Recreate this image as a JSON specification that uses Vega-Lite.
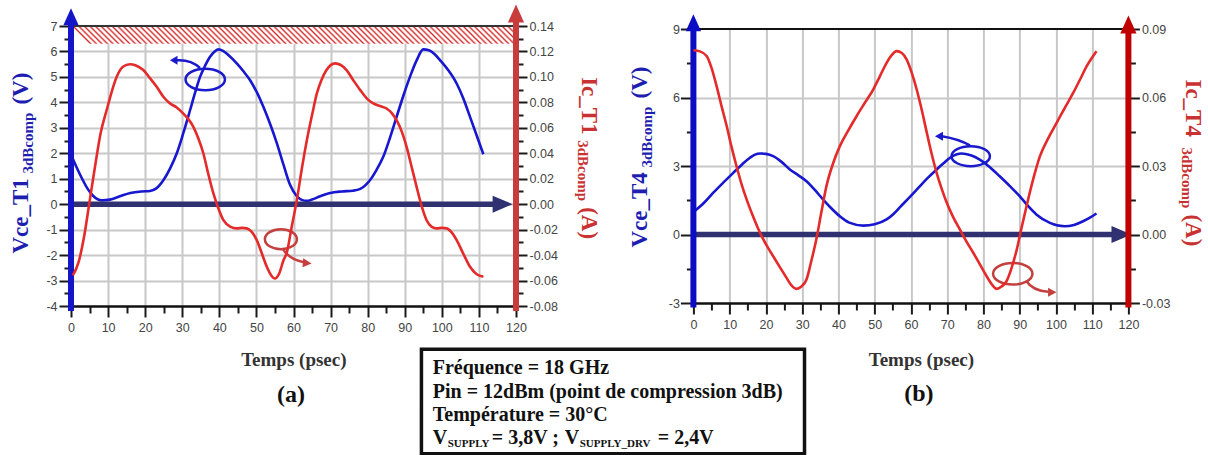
{
"$schema":"https://vega.github.io/schema/vega-lite/v6.json",
"background":"white",
"padding":{"left":10,"top":4,"right":2,"bottom":0},
"bounds":"flush",
"spacing":177.4,
"center":true,
"config":{"view":{"stroke":null},"axis":{"labelFont":"Liberation Sans","labelColor":"#444","labelFontSize":12.5,"labelOverlap":false,"labelFlush":false,"tickColor":"#1a1a1a","tickWidth":2,"gridColor":"#c8c8c8","gridWidth":2}},
"datasets":{
"aV":[{"t":0,"v":1.95},{"t":1.5,"v":1.45},{"t":3,"v":1.0},{"t":4.5,"v":0.6},{"t":6,"v":0.32},{"t":8.3,"v":0.15},{"t":10.5,"v":0.18},{"t":13,"v":0.3},{"t":16,"v":0.44},{"t":19,"v":0.5},{"t":21.3,"v":0.52},{"t":23,"v":0.62},{"t":24.9,"v":0.94},{"t":26.7,"v":1.4},{"t":28.5,"v":1.99},{"t":30.3,"v":2.8},{"t":32.1,"v":3.69},{"t":33.5,"v":4.4},{"t":34.8,"v":5.0},{"t":36.2,"v":5.45},{"t":37.5,"v":5.79},{"t":38.6,"v":5.98},{"t":39.7,"v":6.08},{"t":41,"v":6.02},{"t":42.5,"v":5.85},{"t":44.7,"v":5.53},{"t":46.5,"v":5.22},{"t":48.3,"v":4.87},{"t":50.1,"v":4.4},{"t":51.9,"v":3.82},{"t":53.7,"v":3.15},{"t":55.5,"v":2.4},{"t":57.3,"v":1.55},{"t":59.1,"v":0.75},{"t":60.8,"v":0.33},{"t":62.2,"v":0.17},{"t":63.6,"v":0.13},{"t":65,"v":0.18},{"t":67,"v":0.3},{"t":69.9,"v":0.44},{"t":73,"v":0.5},{"t":76,"v":0.53},{"t":78,"v":0.6},{"t":80.6,"v":0.94},{"t":82.4,"v":1.35},{"t":84.2,"v":1.86},{"t":86,"v":2.6},{"t":87.8,"v":3.43},{"t":89.6,"v":4.25},{"t":91.4,"v":5.0},{"t":93.2,"v":5.65},{"t":95,"v":6.08},{"t":96.5,"v":6.05},{"t":98,"v":5.9},{"t":99.5,"v":5.66},{"t":101.8,"v":5.25},{"t":104,"v":4.74},{"t":105.8,"v":4.15},{"t":107.6,"v":3.43},{"t":109.4,"v":2.7},{"t":111.2,"v":1.96}],
"aI":[{"t":0.5,"i":-0.056},{"t":2,"i":-0.046},{"t":3.5,"i":-0.026},{"t":4.9,"i":0},{"t":6.5,"i":0.03},{"t":8,"i":0.056},{"t":9.6,"i":0.0738},{"t":12.3,"i":0.1},{"t":14,"i":0.108},{"t":15.9,"i":0.11},{"t":17.5,"i":0.109},{"t":19.5,"i":0.1054},{"t":21.3,"i":0.099},{"t":23.1,"i":0.0922},{"t":25,"i":0.084},{"t":26.7,"i":0.0792},{"t":28.5,"i":0.076},{"t":30.3,"i":0.0712},{"t":31.6,"i":0.067},{"t":33,"i":0.0608},{"t":34.3,"i":0.052},{"t":35.7,"i":0.0398},{"t":37,"i":0.024},{"t":38.4,"i":0.0084},{"t":39.7,"i":-0.003},{"t":41.1,"i":-0.0126},{"t":42.9,"i":-0.0176},{"t":44.7,"i":-0.019},{"t":46.2,"i":-0.0186},{"t":47.4,"i":-0.019},{"t":48.8,"i":-0.022},{"t":50.1,"i":-0.0282},{"t":51.5,"i":-0.039},{"t":52.8,"i":-0.0492},{"t":54,"i":-0.056},{"t":55,"i":-0.0584},{"t":56.2,"i":-0.054},{"t":57.3,"i":-0.044},{"t":58.2,"i":-0.038},{"t":59.5,"i":-0.018},{"t":60.9,"i":0.0032},{"t":62.2,"i":0.027},{"t":63.6,"i":0.0502},{"t":65,"i":0.07},{"t":66.3,"i":0.087},{"t":67.6,"i":0.098},{"t":68.9,"i":0.1054},{"t":71.2,"i":0.1106},{"t":74.3,"i":0.1054},{"t":76,"i":0.098},{"t":78,"i":0.0896},{"t":79.8,"i":0.083},{"t":81.5,"i":0.0792},{"t":83.3,"i":0.0772},{"t":85.1,"i":0.0752},{"t":86.5,"i":0.0716},{"t":87.8,"i":0.066},{"t":89.2,"i":0.057},{"t":90.5,"i":0.045},{"t":91.8,"i":0.03},{"t":93.2,"i":0.0136},{"t":94.5,"i":-0.001},{"t":95.9,"i":-0.0126},{"t":97.2,"i":-0.0176},{"t":98.6,"i":-0.019},{"t":100,"i":-0.0186},{"t":101.3,"i":-0.019},{"t":102.7,"i":-0.0224},{"t":104,"i":-0.0282},{"t":105.8,"i":-0.039},{"t":107.6,"i":-0.0492},{"t":109.4,"i":-0.055},{"t":111.2,"i":-0.057}],
"bV":[{"t":0,"v":0.98},{"t":3,"v":1.4},{"t":5.5,"v":1.83},{"t":8.3,"v":2.28},{"t":11,"v":2.7},{"t":13.5,"v":3.08},{"t":15.6,"v":3.36},{"t":17,"v":3.5},{"t":18.4,"v":3.55},{"t":20,"v":3.53},{"t":22,"v":3.43},{"t":24.3,"v":3.18},{"t":26.6,"v":2.85},{"t":28.9,"v":2.6},{"t":31.2,"v":2.33},{"t":33.5,"v":1.95},{"t":35.8,"v":1.53},{"t":38.1,"v":1.14},{"t":40.4,"v":0.8},{"t":43,"v":0.52},{"t":46.9,"v":0.39},{"t":50,"v":0.45},{"t":53.3,"v":0.66},{"t":55.2,"v":0.9},{"t":57,"v":1.2},{"t":59.8,"v":1.66},{"t":62.5,"v":2.12},{"t":64.8,"v":2.5},{"t":67.1,"v":2.85},{"t":69,"v":3.12},{"t":70.8,"v":3.36},{"t":72.5,"v":3.5},{"t":74,"v":3.55},{"t":76.5,"v":3.47},{"t":79,"v":3.28},{"t":81.8,"v":2.95},{"t":84.5,"v":2.55},{"t":87.3,"v":2.12},{"t":90,"v":1.68},{"t":92.3,"v":1.25},{"t":94.6,"v":0.88},{"t":98.5,"v":0.5},{"t":102.4,"v":0.36},{"t":105,"v":0.42},{"t":107.5,"v":0.58},{"t":109.5,"v":0.75},{"t":111.2,"v":0.92}],
"bI":[{"t":0,"i":0.0807},{"t":1.8,"i":0.0802},{"t":3.7,"i":0.0781},{"t":5,"i":0.073},{"t":6.4,"i":0.065},{"t":7.8,"i":0.056},{"t":9.2,"i":0.0474},{"t":10.5,"i":0.0385},{"t":11.9,"i":0.0299},{"t":13.3,"i":0.022},{"t":14.7,"i":0.0153},{"t":16.5,"i":0.0078},{"t":18.4,"i":0.0007},{"t":20.2,"i":-0.0048},{"t":22,"i":-0.0095},{"t":23.8,"i":-0.0142},{"t":25.7,"i":-0.019},{"t":27,"i":-0.0222},{"t":28.4,"i":-0.0238},{"t":29.8,"i":-0.0228},{"t":31.2,"i":-0.0197},{"t":32.5,"i":-0.0118},{"t":33.9,"i":-0.0022},{"t":35.3,"i":0.0097},{"t":36.7,"i":0.0212},{"t":38.5,"i":0.031},{"t":40.4,"i":0.0387},{"t":42.7,"i":0.0455},{"t":45,"i":0.0518},{"t":47.3,"i":0.0577},{"t":49.6,"i":0.0635},{"t":51.5,"i":0.0695},{"t":53.3,"i":0.0752},{"t":54.7,"i":0.0786},{"t":56.1,"i":0.0803},{"t":57.5,"i":0.0795},{"t":58.8,"i":0.0767},{"t":60.2,"i":0.071},{"t":61.6,"i":0.0635},{"t":63,"i":0.0545},{"t":64.4,"i":0.0445},{"t":65.7,"i":0.0355},{"t":67.1,"i":0.027},{"t":68.5,"i":0.02},{"t":69.9,"i":0.0139},{"t":71.7,"i":0.0075},{"t":73.5,"i":0.0022},{"t":75.3,"i":-0.003},{"t":77.2,"i":-0.008},{"t":79,"i":-0.013},{"t":80.9,"i":-0.0183},{"t":82.3,"i":-0.0218},{"t":83.7,"i":-0.0238},{"t":85,"i":-0.0228},{"t":86.4,"i":-0.0204},{"t":87.8,"i":-0.0145},{"t":89.2,"i":-0.0066},{"t":90.5,"i":0.0028},{"t":91.9,"i":0.0124},{"t":93.7,"i":0.024},{"t":95.6,"i":0.0343},{"t":97.9,"i":0.0422},{"t":100.2,"i":0.0489},{"t":102.5,"i":0.0556},{"t":104.8,"i":0.0621},{"t":106.7,"i":0.068},{"t":108.5,"i":0.0737},{"t":110,"i":0.0775},{"t":111.2,"i":0.0803}]
},
"hconcat":[
{
"width":445,"height":280,
"resolve":{"scale":{"y":"independent"}},
"layer":[
{
"data":{"values":[{}]},
"resolve":{"axis":{"x":"independent","y":"independent"}},
"layer":[
{"data":{"name":"aV"},"mark":{"type":"line","color":"#1717d0","strokeWidth":2.6,"interpolate":"monotone"},
"encoding":{
"x":{"field":"t","type":"quantitative","scale":{"domain":[0,120],"nice":false,"zero":false},
"axis":{"title":null,"values":[0,5,10,15,20,25,30,35,40,45,50,55,60,65,70,75,80,85,90,95,100,105,110,115,120],"labelExpr":"datum.value % 10 === 0 ? '' + datum.value : ''","grid":true,"gridOpacity":{"condition":{"test":"datum.value % 10 === 0 && datum.value > 0 && datum.value < 120","value":1},"value":0},"tickSize":{"condition":{"test":"datum.value % 10 === 0","value":11},"value":7},"domainColor":"#111","domainWidth":2.5,"labelPadding":4}},
"y":{"field":"v","type":"quantitative","scale":{"domain":[-4,7],"nice":false,"zero":false},
"axis":{"title":null,"domain":false,"values":[-4,-3.5,-3,-2.5,-2,-1.5,-1,-0.5,0,0.5,1,1.5,2,2.5,3,3.5,4,4.5,5,5.5,6,6.5,7],"labelExpr":"datum.value % 1 === 0 ? '' + datum.value : ''","grid":true,"gridOpacity":{"condition":{"test":"datum.value % 1 === 0 && datum.value > -4 && datum.value < 7","value":1},"value":0},"tickSize":{"condition":{"test":"datum.value % 1 === 0","value":12},"value":7},"labelPadding":2}}}},
{"mark":{"type":"rect","fill":{"gradient":"linear","x1":0,"y1":0,"x2":1,"y2":-0.04,"stops":[
{"offset":0,"color":"#fff"},{"offset":0.0045,"color":"#d43030"},{"offset":0.009,"color":"#fff"},
{"offset":0.0125,"color":"#fff"},{"offset":0.017,"color":"#d43030"},{"offset":0.0215,"color":"#fff"},
{"offset":0.025,"color":"#fff"},{"offset":0.0295,"color":"#d43030"},{"offset":0.034,"color":"#fff"},
{"offset":0.0375,"color":"#fff"},{"offset":0.042,"color":"#d43030"},{"offset":0.0465,"color":"#fff"},
{"offset":0.05,"color":"#fff"},{"offset":0.0545,"color":"#d43030"},{"offset":0.059,"color":"#fff"},
{"offset":0.0625,"color":"#fff"},{"offset":0.067,"color":"#d43030"},{"offset":0.0715,"color":"#fff"},
{"offset":0.075,"color":"#fff"},{"offset":0.0795,"color":"#d43030"},{"offset":0.084,"color":"#fff"},
{"offset":0.0875,"color":"#fff"},{"offset":0.092,"color":"#d43030"},{"offset":0.0965,"color":"#fff"},
{"offset":0.1,"color":"#fff"},{"offset":0.1045,"color":"#d43030"},{"offset":0.109,"color":"#fff"},
{"offset":0.1125,"color":"#fff"},{"offset":0.117,"color":"#d43030"},{"offset":0.1215,"color":"#fff"},
{"offset":0.125,"color":"#fff"},{"offset":0.1295,"color":"#d43030"},{"offset":0.134,"color":"#fff"},
{"offset":0.1375,"color":"#fff"},{"offset":0.142,"color":"#d43030"},{"offset":0.1465,"color":"#fff"},
{"offset":0.15,"color":"#fff"},{"offset":0.1545,"color":"#d43030"},{"offset":0.159,"color":"#fff"},
{"offset":0.1625,"color":"#fff"},{"offset":0.167,"color":"#d43030"},{"offset":0.1715,"color":"#fff"},
{"offset":0.175,"color":"#fff"},{"offset":0.1795,"color":"#d43030"},{"offset":0.184,"color":"#fff"},
{"offset":0.1875,"color":"#fff"},{"offset":0.192,"color":"#d43030"},{"offset":0.1965,"color":"#fff"},
{"offset":0.2,"color":"#fff"},{"offset":0.2045,"color":"#d43030"},{"offset":0.209,"color":"#fff"},
{"offset":0.2125,"color":"#fff"},{"offset":0.217,"color":"#d43030"},{"offset":0.2215,"color":"#fff"},
{"offset":0.225,"color":"#fff"},{"offset":0.2295,"color":"#d43030"},{"offset":0.234,"color":"#fff"},
{"offset":0.2375,"color":"#fff"},{"offset":0.242,"color":"#d43030"},{"offset":0.2465,"color":"#fff"},
{"offset":0.25,"color":"#fff"},{"offset":0.2545,"color":"#d43030"},{"offset":0.259,"color":"#fff"},
{"offset":0.2625,"color":"#fff"},{"offset":0.267,"color":"#d43030"},{"offset":0.2715,"color":"#fff"},
{"offset":0.275,"color":"#fff"},{"offset":0.2795,"color":"#d43030"},{"offset":0.284,"color":"#fff"},
{"offset":0.2875,"color":"#fff"},{"offset":0.292,"color":"#d43030"},{"offset":0.2965,"color":"#fff"},
{"offset":0.3,"color":"#fff"},{"offset":0.3045,"color":"#d43030"},{"offset":0.309,"color":"#fff"},
{"offset":0.3125,"color":"#fff"},{"offset":0.317,"color":"#d43030"},{"offset":0.3215,"color":"#fff"},
{"offset":0.325,"color":"#fff"},{"offset":0.3295,"color":"#d43030"},{"offset":0.334,"color":"#fff"},
{"offset":0.3375,"color":"#fff"},{"offset":0.342,"color":"#d43030"},{"offset":0.3465,"color":"#fff"},
{"offset":0.35,"color":"#fff"},{"offset":0.3545,"color":"#d43030"},{"offset":0.359,"color":"#fff"},
{"offset":0.3625,"color":"#fff"},{"offset":0.367,"color":"#d43030"},{"offset":0.3715,"color":"#fff"},
{"offset":0.375,"color":"#fff"},{"offset":0.3795,"color":"#d43030"},{"offset":0.384,"color":"#fff"},
{"offset":0.3875,"color":"#fff"},{"offset":0.392,"color":"#d43030"},{"offset":0.3965,"color":"#fff"},
{"offset":0.4,"color":"#fff"},{"offset":0.4045,"color":"#d43030"},{"offset":0.409,"color":"#fff"},
{"offset":0.4125,"color":"#fff"},{"offset":0.417,"color":"#d43030"},{"offset":0.4215,"color":"#fff"},
{"offset":0.425,"color":"#fff"},{"offset":0.4295,"color":"#d43030"},{"offset":0.434,"color":"#fff"},
{"offset":0.4375,"color":"#fff"},{"offset":0.442,"color":"#d43030"},{"offset":0.4465,"color":"#fff"},
{"offset":0.45,"color":"#fff"},{"offset":0.4545,"color":"#d43030"},{"offset":0.459,"color":"#fff"},
{"offset":0.4625,"color":"#fff"},{"offset":0.467,"color":"#d43030"},{"offset":0.4715,"color":"#fff"},
{"offset":0.475,"color":"#fff"},{"offset":0.4795,"color":"#d43030"},{"offset":0.484,"color":"#fff"},
{"offset":0.4875,"color":"#fff"},{"offset":0.492,"color":"#d43030"},{"offset":0.4965,"color":"#fff"},
{"offset":0.5,"color":"#fff"},{"offset":0.5045,"color":"#d43030"},{"offset":0.509,"color":"#fff"},
{"offset":0.5125,"color":"#fff"},{"offset":0.517,"color":"#d43030"},{"offset":0.5215,"color":"#fff"},
{"offset":0.525,"color":"#fff"},{"offset":0.5295,"color":"#d43030"},{"offset":0.534,"color":"#fff"},
{"offset":0.5375,"color":"#fff"},{"offset":0.542,"color":"#d43030"},{"offset":0.5465,"color":"#fff"},
{"offset":0.55,"color":"#fff"},{"offset":0.5545,"color":"#d43030"},{"offset":0.559,"color":"#fff"},
{"offset":0.5625,"color":"#fff"},{"offset":0.567,"color":"#d43030"},{"offset":0.5715,"color":"#fff"},
{"offset":0.575,"color":"#fff"},{"offset":0.5795,"color":"#d43030"},{"offset":0.584,"color":"#fff"},
{"offset":0.5875,"color":"#fff"},{"offset":0.592,"color":"#d43030"},{"offset":0.5965,"color":"#fff"},
{"offset":0.6,"color":"#fff"},{"offset":0.6045,"color":"#d43030"},{"offset":0.609,"color":"#fff"},
{"offset":0.6125,"color":"#fff"},{"offset":0.617,"color":"#d43030"},{"offset":0.6215,"color":"#fff"},
{"offset":0.625,"color":"#fff"},{"offset":0.6295,"color":"#d43030"},{"offset":0.634,"color":"#fff"},
{"offset":0.6375,"color":"#fff"},{"offset":0.642,"color":"#d43030"},{"offset":0.6465,"color":"#fff"},
{"offset":0.65,"color":"#fff"},{"offset":0.6545,"color":"#d43030"},{"offset":0.659,"color":"#fff"},
{"offset":0.6625,"color":"#fff"},{"offset":0.667,"color":"#d43030"},{"offset":0.6715,"color":"#fff"},
{"offset":0.675,"color":"#fff"},{"offset":0.6795,"color":"#d43030"},{"offset":0.684,"color":"#fff"},
{"offset":0.6875,"color":"#fff"},{"offset":0.692,"color":"#d43030"},{"offset":0.6965,"color":"#fff"},
{"offset":0.7,"color":"#fff"},{"offset":0.7045,"color":"#d43030"},{"offset":0.709,"color":"#fff"},
{"offset":0.7125,"color":"#fff"},{"offset":0.717,"color":"#d43030"},{"offset":0.7215,"color":"#fff"},
{"offset":0.725,"color":"#fff"},{"offset":0.7295,"color":"#d43030"},{"offset":0.734,"color":"#fff"},
{"offset":0.7375,"color":"#fff"},{"offset":0.742,"color":"#d43030"},{"offset":0.7465,"color":"#fff"},
{"offset":0.75,"color":"#fff"},{"offset":0.7545,"color":"#d43030"},{"offset":0.759,"color":"#fff"},
{"offset":0.7625,"color":"#fff"},{"offset":0.767,"color":"#d43030"},{"offset":0.7715,"color":"#fff"},
{"offset":0.775,"color":"#fff"},{"offset":0.7795,"color":"#d43030"},{"offset":0.784,"color":"#fff"},
{"offset":0.7875,"color":"#fff"},{"offset":0.792,"color":"#d43030"},{"offset":0.7965,"color":"#fff"},
{"offset":0.8,"color":"#fff"},{"offset":0.8045,"color":"#d43030"},{"offset":0.809,"color":"#fff"},
{"offset":0.8125,"color":"#fff"},{"offset":0.817,"color":"#d43030"},{"offset":0.8215,"color":"#fff"},
{"offset":0.825,"color":"#fff"},{"offset":0.8295,"color":"#d43030"},{"offset":0.834,"color":"#fff"},
{"offset":0.8375,"color":"#fff"},{"offset":0.842,"color":"#d43030"},{"offset":0.8465,"color":"#fff"},
{"offset":0.85,"color":"#fff"},{"offset":0.8545,"color":"#d43030"},{"offset":0.859,"color":"#fff"},
{"offset":0.8625,"color":"#fff"},{"offset":0.867,"color":"#d43030"},{"offset":0.8715,"color":"#fff"},
{"offset":0.875,"color":"#fff"},{"offset":0.8795,"color":"#d43030"},{"offset":0.884,"color":"#fff"},
{"offset":0.8875,"color":"#fff"},{"offset":0.892,"color":"#d43030"},{"offset":0.8965,"color":"#fff"},
{"offset":0.9,"color":"#fff"},{"offset":0.9045,"color":"#d43030"},{"offset":0.909,"color":"#fff"},
{"offset":0.9125,"color":"#fff"},{"offset":0.917,"color":"#d43030"},{"offset":0.9215,"color":"#fff"},
{"offset":0.925,"color":"#fff"},{"offset":0.9295,"color":"#d43030"},{"offset":0.934,"color":"#fff"},
{"offset":0.9375,"color":"#fff"},{"offset":0.942,"color":"#d43030"},{"offset":0.9465,"color":"#fff"},
{"offset":0.95,"color":"#fff"},{"offset":0.9545,"color":"#d43030"},{"offset":0.959,"color":"#fff"},
{"offset":0.9625,"color":"#fff"},{"offset":0.967,"color":"#d43030"},{"offset":0.9715,"color":"#fff"},
{"offset":0.975,"color":"#fff"},{"offset":0.9795,"color":"#d43030"},{"offset":0.984,"color":"#fff"},
{"offset":0.9875,"color":"#fff"},{"offset":0.992,"color":"#d43030"},{"offset":0.9965,"color":"#fff"}
]}},
"encoding":{"x":{"datum":0,"type":"quantitative","axis":null},"x2":{"datum":120},"y":{"datum":7,"type":"quantitative","axis":null},"y2":{"datum":6.3}}},
{"mark":{"type":"rule","color":"#333","strokeWidth":2},"encoding":{"x":{"datum":0,"type":"quantitative","axis":null},"x2":{"datum":120},"y":{"datum":7,"type":"quantitative","axis":null}}},
{"mark":{"type":"rule","color":"#2f3170","strokeWidth":5.5},"encoding":{"x":{"datum":0,"type":"quantitative","axis":null},"x2":{"datum":115},"y":{"datum":0,"type":"quantitative","axis":null}}},
{"mark":{"type":"point","shape":"M1,0 L-1,-0.85 L-1,0.85 Z","size":400,"filled":true,"color":"#2f3170","opacity":1},"encoding":{"x":{"datum":116.4,"type":"quantitative","axis":null},"y":{"datum":0,"type":"quantitative","axis":null}}},
{"mark":{"type":"rule","color":"#1414c8","strokeWidth":6},"encoding":{"x":{"datum":0,"type":"quantitative","axis":null},"y":{"datum":-4.2,"type":"quantitative","axis":null},"y2":{"datum":7.1}}},
{"mark":{"type":"point","shape":"M0,-1 L-0.9,1 L0.9,1 Z","size":289,"filled":true,"color":"#1414c8","opacity":1},"encoding":{"x":{"datum":0,"type":"quantitative","axis":null},"y":{"datum":7.36,"type":"quantitative","axis":null}}},
{"mark":{"type":"rule","color":"#c83c3c","strokeWidth":6},"encoding":{"x":{"datum":120,"type":"quantitative","axis":null},"y":{"datum":-4.2,"type":"quantitative","axis":null},"y2":{"datum":7.2}}},
{"mark":{"type":"point","shape":"M0,-1 L-0.9,1 L0.9,1 Z","size":324,"filled":true,"color":"#c83c3c","opacity":1},"encoding":{"x":{"datum":120,"type":"quantitative","axis":null},"y":{"datum":7.49,"type":"quantitative","axis":null}}},
{"mark":{"type":"point","shape":"M0.547,0 C0.547,0.166 0.302,0.3 0,0.3 C-0.302,0.3 -0.547,0.166 -0.547,0 C-0.547,-0.166 -0.302,-0.3 0,-0.3 C0.302,-0.3 0.547,-0.166 0.547,0 Z M-0.147,-0.32 Q-0.4,-0.56 -0.8,-0.533","size":5184,"filled":false,"stroke":"#1a1acc","strokeWidth":2.5,"opacity":1},"encoding":{"x":{"datum":36.2,"type":"quantitative","axis":null},"y":{"datum":4.9,"type":"quantitative","axis":null}}},
{"mark":{"type":"point","shape":"M-0.98,-0.533 L-0.77,-0.66 L-0.77,-0.41 Z","size":5184,"filled":true,"color":"#1a1acc","opacity":1},"encoding":{"x":{"datum":36.2,"type":"quantitative","axis":null},"y":{"datum":4.9,"type":"quantitative","axis":null}}},
{"mark":{"type":"point","shape":"M0.444,0 C0.444,0.153 0.245,0.278 0,0.278 C-0.245,0.278 -0.444,0.153 -0.444,0 C-0.444,-0.153 -0.245,-0.278 0,-0.278 C0.245,-0.278 0.444,-0.153 0.444,0 Z M0.064,0.28 Q0.222,0.556 0.64,0.64","size":5184,"filled":false,"stroke":"#c4403f","strokeWidth":2.5,"opacity":1},"encoding":{"x":{"datum":56.6,"type":"quantitative","axis":null},"y":{"datum":-1.375,"type":"quantitative","axis":null}}},
{"mark":{"type":"point","shape":"M0.853,0.675 L0.62,0.53 L0.6,0.78 Z","size":5184,"filled":true,"color":"#c4403f","opacity":1},"encoding":{"x":{"datum":56.6,"type":"quantitative","axis":null},"y":{"datum":-1.375,"type":"quantitative","axis":null}}},
{"mark":{"type":"text","text":"Vce_T1","font":"Liberation Serif","fontWeight":"bold","fontSize":23,"angle":270,"align":"left","baseline":"alphabetic","color":"#1e1eb0"},"encoding":{"x":{"datum":-11.5,"type":"quantitative","axis":null},"y":{"datum":-1.94,"type":"quantitative","axis":null}}},
{"mark":{"type":"text","text":"3dBcomp","font":"Liberation Serif","fontWeight":"bold","fontSize":15,"angle":270,"align":"left","baseline":"alphabetic","dx":80,"dy":5,"color":"#1e1eb0"},"encoding":{"x":{"datum":-11.5,"type":"quantitative","axis":null},"y":{"datum":-1.94,"type":"quantitative","axis":null}}},
{"mark":{"type":"text","text":"(V)","font":"Liberation Serif","fontWeight":"bold","fontSize":23,"angle":270,"align":"left","baseline":"alphabetic","dx":149,"color":"#1e1eb0"},"encoding":{"x":{"datum":-11.5,"type":"quantitative","axis":null},"y":{"datum":-1.94,"type":"quantitative","axis":null}}},
{"mark":{"type":"text","text":"Ic_T1","font":"Liberation Serif","fontWeight":"bold","fontSize":23,"angle":90,"align":"left","baseline":"alphabetic","color":"#c83232"},"encoding":{"x":{"datum":137.8,"type":"quantitative","axis":null},"y":{"datum":4.99,"type":"quantitative","axis":null}}},
{"mark":{"type":"text","text":"3dBcomp","font":"Liberation Serif","fontWeight":"bold","fontSize":15,"angle":90,"align":"left","baseline":"alphabetic","dx":63,"dy":4,"color":"#c83232"},"encoding":{"x":{"datum":137.8,"type":"quantitative","axis":null},"y":{"datum":4.99,"type":"quantitative","axis":null}}},
{"mark":{"type":"text","text":"(A)","font":"Liberation Serif","fontWeight":"bold","fontSize":23,"angle":90,"align":"left","baseline":"alphabetic","dx":130,"color":"#c83232"},"encoding":{"x":{"datum":137.8,"type":"quantitative","axis":null},"y":{"datum":4.99,"type":"quantitative","axis":null}}},
{"mark":{"type":"text","text":"Temps (psec)","font":"Liberation Serif","fontWeight":"bold","fontSize":19,"align":"center","baseline":"alphabetic","color":"#333"},"encoding":{"x":{"datum":60.1,"type":"quantitative","axis":null},"y":{"datum":-6.37,"type":"quantitative","axis":null}}},
{"mark":{"type":"text","text":"(a)","font":"Liberation Serif","fontWeight":"bold","fontSize":24,"align":"center","baseline":"alphabetic","color":"#111"},"encoding":{"x":{"datum":59.3,"type":"quantitative","axis":null},"y":{"datum":-7.78,"type":"quantitative","axis":null}}},
{"mark":{"type":"rect","fill":"white","stroke":"#111","strokeWidth":3.5},"encoding":{"x":{"datum":94.5,"type":"quantitative","axis":null},"x2":{"datum":197.8},"y":{"datum":-5.7,"type":"quantitative","axis":null},"y2":{"datum":-9.8}}},
{"mark":{"type":"text","text":"Fréquence = 18 GHz","font":"Liberation Serif","fontWeight":"bold","fontSize":20,"align":"left","baseline":"alphabetic","color":"#111"},"encoding":{"x":{"datum":97.55,"type":"quantitative","axis":null},"y":{"datum":-6.69,"type":"quantitative","axis":null}}},
{"mark":{"type":"text","text":"Pin = 12dBm (point de compression 3dB)","font":"Liberation Serif","fontWeight":"bold","fontSize":20,"align":"left","baseline":"alphabetic","color":"#111"},"encoding":{"x":{"datum":97.55,"type":"quantitative","axis":null},"y":{"datum":-7.63,"type":"quantitative","axis":null}}},
{"mark":{"type":"text","text":"Température = 30°C","font":"Liberation Serif","fontWeight":"bold","fontSize":20,"align":"left","baseline":"alphabetic","color":"#111"},"encoding":{"x":{"datum":97.55,"type":"quantitative","axis":null},"y":{"datum":-8.53,"type":"quantitative","axis":null}}},
{"mark":{"type":"text","text":"V","font":"Liberation Serif","fontWeight":"bold","fontSize":20,"align":"left","baseline":"alphabetic","color":"#111"},"encoding":{"x":{"datum":97.55,"type":"quantitative","axis":null},"y":{"datum":-9.44,"type":"quantitative","axis":null}}},
{"mark":{"type":"text","text":"SUPPLY","font":"Liberation Serif","fontWeight":"bold","fontSize":11,"align":"left","baseline":"alphabetic","dx":15,"dy":3,"color":"#111"},"encoding":{"x":{"datum":97.55,"type":"quantitative","axis":null},"y":{"datum":-9.44,"type":"quantitative","axis":null}}},
{"mark":{"type":"text","text":"= 3,8V ;","font":"Liberation Serif","fontWeight":"bold","fontSize":20,"align":"left","baseline":"alphabetic","dx":59,"color":"#111"},"encoding":{"x":{"datum":97.55,"type":"quantitative","axis":null},"y":{"datum":-9.44,"type":"quantitative","axis":null}}},
{"mark":{"type":"text","text":"V","font":"Liberation Serif","fontWeight":"bold","fontSize":20,"align":"left","baseline":"alphabetic","dx":132,"color":"#111"},"encoding":{"x":{"datum":97.55,"type":"quantitative","axis":null},"y":{"datum":-9.44,"type":"quantitative","axis":null}}},
{"mark":{"type":"text","text":"SUPPLY_DRV","font":"Liberation Serif","fontWeight":"bold","fontSize":11,"align":"left","baseline":"alphabetic","dx":147,"dy":3,"color":"#111"},"encoding":{"x":{"datum":97.55,"type":"quantitative","axis":null},"y":{"datum":-9.44,"type":"quantitative","axis":null}}},
{"mark":{"type":"text","text":"= 2,4V","font":"Liberation Serif","fontWeight":"bold","fontSize":20,"align":"left","baseline":"alphabetic","dx":225,"color":"#111"},"encoding":{"x":{"datum":97.55,"type":"quantitative","axis":null},"y":{"datum":-9.44,"type":"quantitative","axis":null}}}
]
},
{"data":{"name":"aI"},"mark":{"type":"line","color":"#e42a2a","strokeWidth":2.6,"interpolate":"monotone"},
"encoding":{
"x":{"field":"t","type":"quantitative","scale":{"domain":[0,120],"nice":false,"zero":false},"axis":null},
"y":{"field":"i","type":"quantitative","scale":{"domain":[-0.08,0.14],"nice":false,"zero":false},
"axis":{"orient":"right","title":null,"domain":false,"grid":false,"values":[-0.08,-0.07,-0.06,-0.05,-0.04,-0.03,-0.02,-0.01,0,0.01,0.02,0.03,0.04,0.05,0.06,0.07,0.08,0.09,0.1,0.11,0.12,0.13,0.14],"labelExpr":"abs(round(datum.value*100)) % 2 === 0 ? replace(format(datum.value, '.2f'), '\u2212', '-') : ''","tickSize":{"condition":{"test":"abs(round(datum.value*100)) % 2 === 0","value":11},"value":7},"labelPadding":2}}}}
]
},
{
"width":435,"height":274,
"resolve":{"scale":{"y":"independent"}},
"layer":[
{
"data":{"values":[{}]},
"resolve":{"axis":{"x":"independent","y":"independent"}},
"layer":[
{"data":{"name":"bV"},"mark":{"type":"line","color":"#1717d0","strokeWidth":2.6,"interpolate":"monotone"},
"encoding":{
"x":{"field":"t","type":"quantitative","scale":{"domain":[0,120],"nice":false,"zero":false},
"axis":{"title":null,"values":[0,5,10,15,20,25,30,35,40,45,50,55,60,65,70,75,80,85,90,95,100,105,110,115,120],"labelExpr":"datum.value % 10 === 0 ? '' + datum.value : ''","grid":true,"gridOpacity":{"condition":{"test":"datum.value % 10 === 0 && datum.value > 0 && datum.value < 120","value":1},"value":0},"tickSize":{"condition":{"test":"datum.value % 10 === 0","value":11},"value":7},"domainColor":"#111","domainWidth":2.5,"labelPadding":4}},
"y":{"field":"v","type":"quantitative","scale":{"domain":[-3,9],"nice":false,"zero":false},
"axis":{"title":null,"domain":false,"values":[-3,-1.5,0,1.5,3,4.5,6,7.5,9],"labelExpr":"datum.value % 3 === 0 ? '' + datum.value : ''","grid":true,"gridOpacity":{"condition":{"test":"datum.value % 3 === 0 && datum.value > -3 && datum.value < 9","value":1},"value":0},"tickSize":{"condition":{"test":"datum.value % 3 === 0","value":13},"value":7},"labelPadding":1}}}},
{"mark":{"type":"rule","color":"#111","strokeWidth":2},"encoding":{"x":{"datum":0,"type":"quantitative","axis":null},"x2":{"datum":120},"y":{"datum":9,"type":"quantitative","axis":null}}},
{"mark":{"type":"rule","color":"#2f3170","strokeWidth":5.5},"encoding":{"x":{"datum":0,"type":"quantitative","axis":null},"x2":{"datum":116},"y":{"datum":0,"type":"quantitative","axis":null}}},
{"mark":{"type":"point","shape":"M1,0 L-1,-0.85 L-1,0.85 Z","size":400,"filled":true,"color":"#2f3170","opacity":1},"encoding":{"x":{"datum":118.1,"type":"quantitative","axis":null},"y":{"datum":0,"type":"quantitative","axis":null}}},
{"mark":{"type":"rule","color":"#0c0cc4","strokeWidth":6},"encoding":{"x":{"datum":0,"type":"quantitative","axis":null},"y":{"datum":-3.2,"type":"quantitative","axis":null},"y2":{"datum":9}}},
{"mark":{"type":"point","shape":"M0,-1 L-0.9,1 L0.9,1 Z","size":289,"filled":true,"color":"#0c0cc4","opacity":1},"encoding":{"x":{"datum":0,"type":"quantitative","axis":null},"y":{"datum":9.27,"type":"quantitative","axis":null}}},
{"mark":{"type":"rule","color":"#c00000","strokeWidth":6},"encoding":{"x":{"datum":120,"type":"quantitative","axis":null},"y":{"datum":-3.2,"type":"quantitative","axis":null},"y2":{"datum":9}}},
{"mark":{"type":"point","shape":"M0,-1 L-0.9,1 L0.9,1 Z","size":324,"filled":true,"color":"#c00000","opacity":1},"encoding":{"x":{"datum":120,"type":"quantitative","axis":null},"y":{"datum":9.2,"type":"quantitative","axis":null}}},
{"mark":{"type":"point","shape":"M0.533,0 C0.533,0.153 0.294,0.278 0,0.278 C-0.294,0.278 -0.533,0.153 -0.533,0 C-0.533,-0.153 -0.294,-0.278 0,-0.278 C0.294,-0.278 0.533,-0.153 0.533,0 Z M-0.022,-0.3 Q-0.333,-0.48 -0.8,-0.556","size":5184,"filled":false,"stroke":"#1a1acc","strokeWidth":2.5,"opacity":1},"encoding":{"x":{"datum":76.5,"type":"quantitative","axis":null},"y":{"datum":3.43,"type":"quantitative","axis":null}}},
{"mark":{"type":"point","shape":"M-0.994,-0.556 L-0.77,-0.68 L-0.77,-0.43 Z","size":5184,"filled":true,"color":"#1a1acc","opacity":1},"encoding":{"x":{"datum":76.5,"type":"quantitative","axis":null},"y":{"datum":3.43,"type":"quantitative","axis":null}}},
{"mark":{"type":"point","shape":"M0.547,0 C0.547,0.166 0.302,0.3 0,0.3 C-0.302,0.3 -0.547,0.166 -0.547,0 C-0.547,-0.166 -0.302,-0.3 0,-0.3 C0.302,-0.3 0.547,-0.166 0.547,0 Z M0.381,0.208 Q0.556,0.472 0.98,0.5","size":5184,"filled":false,"stroke":"#c4403f","strokeWidth":2.5,"opacity":1},"encoding":{"x":{"datum":88.1,"type":"quantitative","axis":null},"y":{"datum":-1.72,"type":"quantitative","axis":null}}},
{"mark":{"type":"point","shape":"M1.214,0.514 L0.98,0.39 L0.98,0.64 Z","size":5184,"filled":true,"color":"#c4403f","opacity":1},"encoding":{"x":{"datum":88.1,"type":"quantitative","axis":null},"y":{"datum":-1.72,"type":"quantitative","axis":null}}},
{"mark":{"type":"text","text":"Vce_T4","font":"Liberation Serif","fontWeight":"bold","fontSize":23,"angle":270,"align":"left","baseline":"alphabetic","color":"#1e1eb0"},"encoding":{"x":{"datum":-12.9,"type":"quantitative","axis":null},"y":{"datum":-0.57,"type":"quantitative","axis":null}}},
{"mark":{"type":"text","text":"3dBcomp","font":"Liberation Serif","fontWeight":"bold","fontSize":15,"angle":270,"align":"left","baseline":"alphabetic","dx":80,"dy":5,"color":"#1e1eb0"},"encoding":{"x":{"datum":-12.9,"type":"quantitative","axis":null},"y":{"datum":-0.57,"type":"quantitative","axis":null}}},
{"mark":{"type":"text","text":"(V)","font":"Liberation Serif","fontWeight":"bold","fontSize":23,"angle":270,"align":"left","baseline":"alphabetic","dx":149,"color":"#1e1eb0"},"encoding":{"x":{"datum":-12.9,"type":"quantitative","axis":null},"y":{"datum":-0.57,"type":"quantitative","axis":null}}},
{"mark":{"type":"text","text":"Ic_T4","font":"Liberation Serif","fontWeight":"bold","fontSize":23,"angle":90,"align":"left","baseline":"alphabetic","color":"#c83232"},"encoding":{"x":{"datum":136.0,"type":"quantitative","axis":null},"y":{"datum":6.79,"type":"quantitative","axis":null}}},
{"mark":{"type":"text","text":"3dBcomp","font":"Liberation Serif","fontWeight":"bold","fontSize":15,"angle":90,"align":"left","baseline":"alphabetic","dx":68,"dy":4,"color":"#c83232"},"encoding":{"x":{"datum":136.0,"type":"quantitative","axis":null},"y":{"datum":6.79,"type":"quantitative","axis":null}}},
{"mark":{"type":"text","text":"(A)","font":"Liberation Serif","fontWeight":"bold","fontSize":23,"angle":90,"align":"left","baseline":"alphabetic","dx":135,"color":"#c83232"},"encoding":{"x":{"datum":136.0,"type":"quantitative","axis":null},"y":{"datum":6.79,"type":"quantitative","axis":null}}},
{"mark":{"type":"text","text":"Temps (psec)","font":"Liberation Serif","fontWeight":"bold","fontSize":19,"align":"center","baseline":"alphabetic","color":"#333"},"encoding":{"x":{"datum":62.9,"type":"quantitative","axis":null},"y":{"datum":-5.74,"type":"quantitative","axis":null}}},
{"mark":{"type":"text","text":"(b)","font":"Liberation Serif","fontWeight":"bold","fontSize":24,"align":"center","baseline":"alphabetic","color":"#111"},"encoding":{"x":{"datum":62.2,"type":"quantitative","axis":null},"y":{"datum":-7.31,"type":"quantitative","axis":null}}}
]
},
{"data":{"name":"bI"},"mark":{"type":"line","color":"#e42a2a","strokeWidth":2.6,"interpolate":"monotone"},
"encoding":{
"x":{"field":"t","type":"quantitative","scale":{"domain":[0,120],"nice":false,"zero":false},"axis":null},
"y":{"field":"i","type":"quantitative","scale":{"domain":[-0.03,0.09],"nice":false,"zero":false},
"axis":{"orient":"right","title":null,"domain":false,"grid":false,"values":[-0.03,-0.015,0,0.015,0.03,0.045,0.06,0.075,0.09],"labelExpr":"abs(round(datum.value*1000)) % 30 === 0 ? replace(format(datum.value, '.2f'), '\u2212', '-') : ''","tickSize":{"condition":{"test":"abs(round(datum.value*1000)) % 30 === 0","value":11},"value":7},"labelPadding":2}}}}
]
}
]
}
